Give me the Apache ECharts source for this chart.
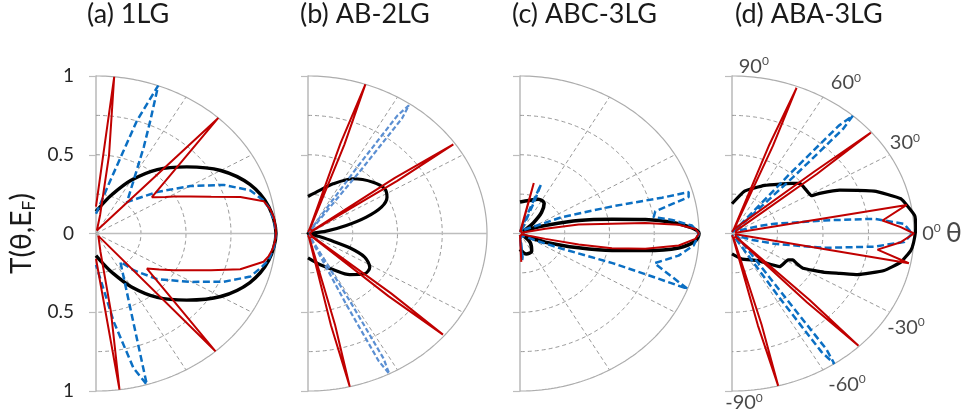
<!DOCTYPE html>
<html><head><meta charset="utf-8">
<script src="https://cdn.jsdelivr.net/npm/echarts@6/dist/echarts.min.js"></script>
<style>html,body{margin:0;padding:0;background:#fff}#c{width:967px;height:419px}</style>
</head><body><div id="c"></div>
<script>
// ---------- labels ----------
const panelTitles = ['(a) 1LG', '(b) AB-2LG', '(c) ABC-3LG', '(d) ABA-3LG'];
const radialTickValues = [-1, -0.5, 0, 0.5, 1];
const ringRadii = [0.25, 0.5, 0.75];
const spokeAngles = [60, 30, -30, -60];
const angleLabels = ['90', '60', '30', '0', '-30', '-60', '-90'];

// ---------- data: [angle in degrees, T] ----------
const aBlack = [[90,0.14],[80,0.185],[70,0.265],[60,0.39],[50,0.53],[40,0.658],[30,0.8],[20,0.91],[10,0.975],[0,1.0],
  [-10,0.975],[-20,0.91],[-30,0.8],[-40,0.658],[-50,0.53],[-60,0.39],[-70,0.265],[-80,0.185],[-90,0.14]];
const aRed = [[90,0.17],[84.2,1.0],[81.7,0.5],[79,0.12],[76,0.02],[62,0.01],[48.5,0.02],[47.2,1.0],[36.6,0.387],
  [35,0.4],[31,0.45],[28.6,0.491],[24.2,0.574],[20,0.681],[16.1,0.835],[12.4,0.954],[9,0.98],[6,0.993],[3,0.998],
  [0,1.0],[-3,0.995],[-6,0.985],[-8.5,0.97],
  [-10.9,0.948],[-15.8,0.833],[-20,0.68],[-24,0.573],[-28.4,0.49],[-33,0.42],[-38.2,0.36],
  [-48.4,1.0],[-49.6,0.02],[-62,0.01],[-75,0.02],[-78,0.12],[-80.5,0.5],[-82.5,1.0],[-90,0.16]];
const aBlue = [[90,0.125],[76.7,0.346],[73.7,0.55],[72.4,0.75],[69.8,1.0],[67.2,0.78],[64.2,0.61],[58.2,0.397],
  [49.2,0.263],[44,0.32],[37.8,0.43],[29.9,0.604],[23.5,0.774],[17.7,0.9],[13,0.95],[9.9,0.974],[5,0.993],[0,1.0],
  [-5,0.993],[-10,0.974],[-13,0.945],[-17.7,0.9],[-23.5,0.77],[-30.4,0.607],[-40.5,0.446],[-48.1,0.313],[-53.1,0.225],
  [-73.6,1.0],[-76.3,0.88],[-80,0.57],[-90,0.2]];

const bBlack = [[90,0.235],[76.6,0.281],[66.1,0.345],[54.1,0.429],[41.9,0.488],[33.6,0.514],[27.6,0.498],[22.2,0.443],
  [17.7,0.342],[13.4,0.22],[8.4,0.103],[4,0.02],[-5,0.0],[-14,0.02],[-16.9,0.058],[-19.3,0.148],[-21.3,0.25],
  [-25.3,0.35],[-31.8,0.406],[-38.9,0.407],[-48.2,0.35],[-58.6,0.268],[-71.7,0.207],[-90,0.155]];
const bRed = [[90,0.01],[73.3,0.03],[72.4,0.6],[71.3,1.0],[70.2,0.6],[69.3,0.03],[36.9,0.03],[36,0.6],[34.9,0.99],
  [33.8,0.6],[32.9,0.03],[0,0.01],[-38.4,0.03],[-39.3,0.6],[-40.4,0.99],[-41.5,0.6],[-42.4,0.03],
  [-74.5,0.03],[-75.4,0.6],[-76.5,1.0],[-77.6,0.6],[-78.5,0.03],[-90,0.01]];
const bBlue = [[90,0.01],[57.8,0.03],[56.9,0.5],[56.3,0.9],[55.3,0.99],[54.3,0.9],[53.7,0.5],[52.8,0.03],[0,0.01],
  [-60.5,0.03],[-61.4,0.5],[-62,0.9],[-63,1.0],[-64,0.9],[-64.6,0.5],[-65.5,0.03],[-90,0.01]];

const cBlack = [[90,0.2],[77,0.215],[65,0.24],[55,0.235],[48,0.18],[42,0.1],[36,0.03],[31,0.02],[25,0.08],[20,0.15],
  [14.2,0.338],[10,0.522],[7.2,0.706],[4.8,0.852],[2.1,0.962],[0,1.0],[-2.8,0.98],[-5.9,0.891],[-8.8,0.708],
  [-11.9,0.525],[-15.5,0.34],[-21.2,0.152],[-28,0.03],[-35,0.02],[-45,0.08],[-60,0.13],[-75,0.135],[-90,0.1]];
const cRed = [[90,0.01],[77.4,0.02],[76.5,0.33],[75.6,0.02],[30,0.01],[14,0.06],[11.9,0.145],[9.9,0.333],[6.8,0.518],
  [5.4,0.703],[3.6,0.888],[1.7,0.98],[0,1.0],[-2,0.98],[-4.9,0.89],[-7.9,0.707],[-10.3,0.522],[-12,0.335],
  [-13.5,0.146],[-16,0.06],[-25,0.01],[-86.5,0.02],[-87.7,0.18],[-88.9,0.02],[-90,0.01]];
const cBlue = [[90,0.01],[72,0.02],[70.4,0.2],[69.4,0.333],[68.4,0.2],[66.5,0.02],[40,0.02],[31,0.078],[23.9,0.257],
  [18.5,0.542],[16,0.825],[15.6,0.978],[13.8,0.97],[10.6,0.769],[7.9,0.754],[5.8,0.854],[3,0.962],[0,1.0],
  [-4.5,0.973],[-9,0.897],[-14.1,0.775],[-20.6,1.0],[-20.3,0.8],[-20,0.55],[-22.4,0.254],[-27,0.1],[-35,0.03],
  [-82,0.02],[-84.5,0.15],[-86,0.17],[-88,0.02],[-90,0.01]];

const dBlack = [[90,0.189],[75.6,0.278],[59.6,0.354],[50,0.41],[43.7,0.46],[40.5,0.49],[35.7,0.492],[28.8,0.498],
  [27.9,0.545],[25,0.653],[19,0.826],[13.4,0.953],[6.5,1.01],[2,1.01],[-3,1.0],[-6.3,0.988],[-11.1,0.945],
  [-15.7,0.868],[-20.7,0.738],[-23.1,0.644],[-25.9,0.564],[-29.5,0.448],[-28.1,0.401],[-26.6,0.375],[-28.6,0.351],
  [-38.8,0.336],[-50.4,0.224],[-72.4,0.169],[-90,0.13]];
const dRed = [[90,0.01],[71,0.03],[70,0.6],[69,0.99],[68,0.6],[67,0.03],[42,0.03],[41,0.6],[40,0.996],[39,0.6],
  [38,0.03],[12,0.02],[10.7,0.977],[5.7,0.831],[2.5,0.928],[0,1.0],[-3.4,0.929],[-7.3,0.806],[-11,0.99],
  [-12.2,0.02],[-43.7,0.03],[-44.7,0.6],[-45.7,0.995],[-46.7,0.6],[-47.7,0.03],[-73.3,0.03],[-74.3,0.6],
  [-75.3,1.0],[-76.3,0.6],[-77.3,0.03],[-90,0.01]];
const dBlue = [[90,0.01],[51,0.03],[50,0.5],[49.4,0.9],[48.4,1.0],[47.4,0.9],[46.8,0.5],[45.8,0.03],[25,0.05],
  [18,0.15],[14.7,0.242],[9.3,0.514],[6.8,0.787],[3.7,0.947],[0,0.99],[-3.3,0.947],[-6.1,0.785],[-10.2,0.515],
  [-15.7,0.243],[-20,0.12],[-28,0.03],[-53.2,0.03],[-54.2,0.5],[-54.8,0.9],[-55.8,1.0],[-56.8,0.9],[-57.4,0.5],
  [-58.4,0.03],[-90,0.01]];

const panelCurves = [
  {black: aBlack, red: aRed, blue: aBlue},
  {black: bBlack, red: bRed, blue: bBlue},
  {black: cBlack, red: cRed, blue: cBlue},
  {black: dBlack, red: dRed, blue: dBlue}
];

// ---------- layout & style ----------
const FONT = 'Lato, "Open Sans", sans-serif';
const panelBox = [
  {left: 96, width: 180, titleLeft: 87},
  {left: 308, width: 179, titleLeft: 300},
  {left: 520, width: 179, titleLeft: 512},
  {left: 732, width: 182, titleLeft: 735}
];
const GRID_TOP = 76, GRID_H = 315;
const blueColors = ['#0b6fc3', '#5b8fd2', '#0b6fc3', '#0b6fc3'];
const blackWidth = [3.4, 3.2, 3.6, 3.2];
const blackSmooth = [0.3, 0.3, 0.3, 0.12];
// positions of the angle labels of panel (d), in the panel's data units
const angleLabelPos = [[0.12,1.063],[0.626,0.956],[0.95,0.575],[1.154,0.0],[0.956,-0.594],[0.632,-0.957],[0.066,-1.076]];

function toXY(pts) {
  return pts.map(([d, r]) => { const t = d * Math.PI / 180; return [r * Math.cos(t), r * Math.sin(t)]; });
}
function arcPts(r) { const out = []; for (let d = 90; d >= -90; d -= 1) out.push([d, r]); return toXY(out); }

const grids = [], xAxes = [], yAxes = [], series = [], titles = [];
panelBox.forEach((p, i) => {
  grids.push({left: p.left, top: GRID_TOP, width: p.width, height: GRID_H});
  xAxes.push({gridIndex: i, type: 'value', min: 0, max: 1, show: false});
  const y = {gridIndex: i, type: 'value', min: -1, max: 1, interval: 0.5,
    axisLine: {show: true, onZero: false, lineStyle: {color: '#bdbdbd', width: 1.6}},
    axisTick: {show: true, length: 7, lineStyle: {color: '#bdbdbd', width: 1.2}},
    axisLabel: {show: i === 0, margin: 22, fontSize: 19, color: '#262626', fontFamily: FONT,
      formatter: v => radialTickValues.includes(v) ? String(Math.abs(v)) : ''},
    splitLine: {show: false}};
  if (i === 0) {
    y.name = '{t|T(θ,E}{s|F}{t|)}';
    y.nameLocation = 'middle';
    y.nameRotate = 90;
    y.nameGap = 58;
    y.nameTextStyle = {rich: {
      t: {fontSize: 28, fontFamily: FONT, color: '#1a1a1a', lineHeight: 32},
      s: {fontSize: 18, fontFamily: FONT, color: '#1a1a1a', lineHeight: 16, verticalAlign: 'bottom'}}};
  }
  yAxes.push(y);
  titles.push({text: panelTitles[i], left: p.titleLeft, top: 1, padding: 0,
    textStyle: {fontSize: 27, fontWeight: 'normal', color: '#1a1a1a', fontFamily: FONT}});

  const base = {type: 'line', xAxisIndex: i, yAxisIndex: i, showSymbol: false, symbol: 'none',
    silent: true, animation: false, clip: false};
  ringRadii.forEach(r => series.push(Object.assign({}, base, {data: arcPts(r), smooth: false,
    lineStyle: {color: '#9a9a9a', width: 1, type: [4, 3]}, z: 1})));
  spokeAngles.forEach(a => series.push(Object.assign({}, base, {data: toXY([[a, 0], [a, 1]]),
    lineStyle: {color: '#9a9a9a', width: 1, type: [4, 3]}, z: 1})));
  series.push(Object.assign({}, base, {data: arcPts(1), lineStyle: {color: '#adadad', width: 1.2}, z: 1}));
  series.push(Object.assign({}, base, {data: toXY([[0, 0], [0, 1]]), lineStyle: {color: '#bdbdbd', width: 1.6}, z: 1}));

  const c = panelCurves[i];
  series.push(Object.assign({}, base, {data: toXY(c.black), smooth: blackSmooth[i],
    lineStyle: {color: '#000', width: blackWidth[i]}, z: 3}));
  series.push(Object.assign({}, base, {data: toXY(c.blue), smooth: false,
    lineStyle: {color: blueColors[i], width: i === 1 ? 2.2 : 2.5, type: i === 1 ? [5, 2.5] : [7, 3.5]}, z: 4}));
  series.push(Object.assign({}, base, {data: toXY(c.red), smooth: false,
    lineStyle: {color: '#c00000', width: 2}, z: 5}));
});

// angle labels of panel (d)
series.push({type: 'scatter', xAxisIndex: 3, yAxisIndex: 3, symbolSize: 1, clip: false, silent: true, animation: false,
  itemStyle: {color: 'rgba(0,0,0,0)'},
  label: {show: true, position: 'inside', color: '#1a1a1a',
    rich: {a: {fontSize: 20, fontFamily: FONT, color: '#1a1a1a', lineHeight: 22},
           s: {fontSize: 12, fontFamily: FONT, color: '#1a1a1a', lineHeight: 12, verticalAlign: 'top'},
           th: {fontSize: 27, fontFamily: FONT, color: '#1a1a1a', lineHeight: 22}}},
  data: angleLabels.map((t, k) => ({value: angleLabelPos[k],
    label: {formatter: t === '0' ? '{a|0}{s|0}{a| }{th|θ}' : '{a|' + t + '}{s|0}'}}))});

const chart = echarts.init(document.getElementById('c'), null, {renderer: 'canvas'});
chart.setOption({animation: false, backgroundColor: '#fff', title: titles, grid: grids,
  xAxis: xAxes, yAxis: yAxes, series: series});
</script></body></html>
